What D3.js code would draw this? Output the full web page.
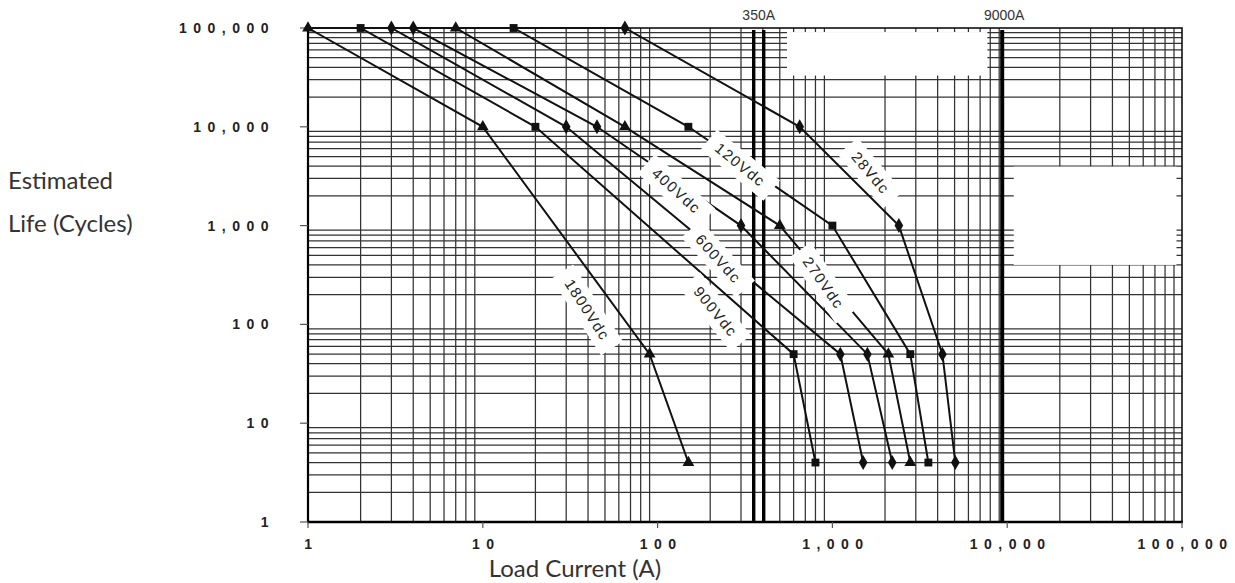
<!DOCTYPE html>
<html>
<head>
<meta charset="utf-8">
<script src="https://cdn.jsdelivr.net/npm/d3@7"></script>
<style>
  body { margin: 0; background: #fff; }
  .grid line { stroke: #333; stroke-width: 1.25; }
  .tick-label { font-family: 'Liberation Sans', Arial, sans-serif; font-weight: bold; font-size: 14px; fill: #222; letter-spacing: 6.5px; }
  .title { font-family: Lato, sans-serif; font-size: 24px; fill: #333; }
  .curve { fill: none; stroke: #111; stroke-width: 2; }
  .marker { fill: #111; }
  .curve-label { font-family: 'Liberation Sans', Arial, sans-serif; font-size: 15px; fill: #222; letter-spacing: 1.5px; }
  .limit { stroke: #000; }
  .limit-label { font-family: 'Liberation Sans', Arial, sans-serif; font-size: 14px; fill: #333; }
</style>
</head>
<body>
<script>
const width = 1235
const height = 583

// Contactor life curves, one row per voltage
const voltages = ['28Vdc', '120Vdc', '270Vdc', '400Vdc', '600Vdc', '900Vdc', '1800Vdc']
const loadCurrent = [
  [65, 650, 2400, 4260, 5050],
  [15, 150, 1000, 2790, 3540],
  [7, 65, 500, 2090, 2790],
  [4, 45, 300, 1585, 2200],
  [3, 30, 1110, 1500],
  [2, 20, 600, 800],
  [1, 10, 90, 150]
]
const estimatedLife = [
  [100000, 10000, 1000, 50, 4],
  [100000, 10000, 1000, 50, 4],
  [100000, 10000, 1000, 50, 4],
  [100000, 10000, 1000, 50, 4],
  [100000, 10000, 50, 4],
  [100000, 10000, 50, 4],
  [100000, 10000, 50, 4]
]
// where each voltage label sits on its curve (data units)
const labelCurrent = [1650, 297, 887, 128, 222, 214, 39.5]
const labelLife = [3400, 4100, 262, 2240, 459, 134, 140]

// current limit lines
const limitValues = [350, 9000]
const limitLabels = ['350A', '9000A']

const tickValues = [1, 10, 100, 1000, 10000, 100000]

// styling per series
const markerShape = ['diamond', 'square', 'triangle', 'diamond', 'diamond', 'square', 'triangle']
const labelAngle = [50, 39, 55, 42, 48, 51, 57]

const x = d3.scaleLog().domain([1, 100000]).range([308, 1182])
const y = d3.scaleLog().domain([1, 100000]).range([522, 28])

const svg = d3.select('body').append('svg')
  .attr('width', width)
  .attr('height', height)

// Grid lines at 1..9 of every decade
const minor = []
for (let d = 1; d < 100000; d *= 10) {
  for (let k = 2; k <= 9; k++) minor.push(d * k)
}
const grid = svg.append('g').classed('grid', true)
grid.selectAll('line.v').data(minor).enter().append('line').classed('v', true)
  .attr('x1', d => x(d)).attr('x2', d => x(d))
  .attr('y1', y(1)).attr('y2', y(100000))
grid.selectAll('line.h').data(minor).enter().append('line').classed('h', true)
  .attr('y1', d => y(d)).attr('y2', d => y(d))
  .attr('x1', x(1)).attr('x2', x(100000))

// the scanned sheet has a couple of blank patches in the grid
const blanks = [
  {x0: 550, x1: 7700, y0: 33000, y1: 91000},
  {x0: 10900, x1: 93000, y0: 400, y1: 3950}
]
svg.append('g').selectAll('rect').data(blanks).enter().append('rect')
  .attr('x', d => x(d.x0)).attr('width', d => x(d.x1) - x(d.x0))
  .attr('y', d => y(d.y1)).attr('height', d => y(d.y0) - y(d.y1))
  .attr('fill', '#fff')

// Frame and decade ticks
const frame = svg.append('g')
frame.append('rect')
  .attr('x', x(1)).attr('y', y(100000))
  .attr('width', x(100000) - x(1)).attr('height', y(1) - y(100000))
  .attr('fill', 'none').attr('stroke', '#111').attr('stroke-width', 1.6)
frame.append('line')
  .attr('x1', x(1) - 1).attr('x2', x(100000) + 1).attr('y1', y(1)).attr('y2', y(1))
  .attr('stroke', '#000').attr('stroke-width', 2.6)
frame.append('line')
  .attr('x1', x(1)).attr('x2', x(1)).attr('y1', y(1)).attr('y2', y(100000))
  .attr('stroke', '#000').attr('stroke-width', 2.2)
frame.selectAll('line.yt').data(tickValues).enter().append('line').classed('yt', true)
  .attr('x1', x(1) - 8).attr('x2', x(1)).attr('y1', d => y(d)).attr('y2', d => y(d))
  .attr('stroke', '#555').attr('stroke-width', 1.2)
frame.selectAll('line.xt').data(tickValues).enter().append('line').classed('xt', true)
  .attr('y1', y(1)).attr('y2', y(1) + 6).attr('x1', d => x(d)).attr('x2', d => x(d))
  .attr('stroke', '#555').attr('stroke-width', 1.2)

const fmt = d3.format(',')
svg.append('g').selectAll('text').data(tickValues).enter().append('text')
  .classed('tick-label', true)
  .attr('x', 275).attr('y', d => y(d) + 5)
  .attr('text-anchor', 'end')
  .text(fmt)
svg.append('g').selectAll('text').data(tickValues).enter().append('text')
  .classed('tick-label', true)
  .attr('x', d => x(d) + 3.5).attr('y', 549)
  .attr('text-anchor', 'middle')
  .text(fmt)

// Axis titles
svg.append('text').classed('title', true).attr('x', 8).attr('y', 189).text('Estimated')
svg.append('text').classed('title', true).attr('x', 8).attr('y', 232).text('Life (Cycles)')
svg.append('text').classed('title', true).attr('x', 575).attr('y', 577)
  .attr('text-anchor', 'middle').text('Load Current (A)')

// Limit lines: 350A is drawn as a double rule, 9000A as a heavy one
const limits = svg.append('g')
limitValues.forEach((v, i) => {
  const offsets = i === 0 ? [1, 11] : [3]
  offsets.forEach(o => {
    limits.append('line').classed('limit', true)
      .attr('x1', x(v) + o).attr('x2', x(v) + o)
      .attr('y1', y(100000) + 2).attr('y2', y(1))
      .attr('stroke-width', i === 0 ? 3.4 : 4)
  })
  limits.append('text').classed('limit-label', true)
    .attr('x', x(v) + (i === 0 ? 6 : 5)).attr('y', 20)
    .attr('text-anchor', 'middle')
    .text(limitLabels[i])
})

// Curves, flat at 100,000 cycles from 1A up to the knee
const series = voltages.map((name, i) => ({
  name,
  points: loadCurrent[i].map((c, j) => [c, estimatedLife[i][j]])
}))
const line = d3.line().x(d => x(d[0])).y(d => y(d[1]))
const curves = svg.append('g')
curves.selectAll('path').data(series).enter().append('path').classed('curve', true)
  .attr('d', d => line([[1, 100000], ...d.points]))

const symbols = {
  diamond: d3.symbol().type(d3.symbolDiamond).size(65),
  square: d3.symbol().type(d3.symbolSquare).size(62),
  triangle: d3.symbol().type(d3.symbolTriangle).size(60)
}
series.forEach((s, i) => {
  curves.selectAll(null).data(s.points).enter().append('path').classed('marker', true)
    .attr('transform', d => `translate(${x(d[0])},${y(d[1])})`)
    .attr('d', symbols[markerShape[i]])
})

// Voltage labels on a white patch, rotated along the curve
const labels = svg.append('g')
voltages.forEach((name, i) => {
  const g = labels.append('g')
    .attr('transform', `translate(${x(labelCurrent[i])},${y(labelLife[i])}) rotate(${labelAngle[i]})`)
  const w = name.length * 10.5 + 18
  g.append('rect')
    .attr('x', -w / 2).attr('y', -13).attr('width', w).attr('height', 26)
    .attr('fill', '#fff')
  g.append('text').classed('curve-label', true)
    .attr('text-anchor', 'middle').attr('y', 5)
    .text(name)
})
</script>
</body>
</html>
